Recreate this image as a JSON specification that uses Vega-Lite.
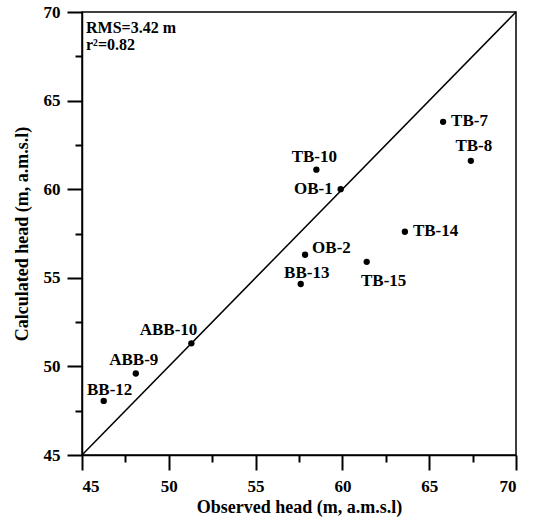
{
  "$schema": "https://vega.github.io/schema/vega-lite/v6.json",
  "width": 434,
  "height": 443,
  "autosize": {"type": "none"},
  "padding": {"left": 82, "top": 12, "right": 17, "bottom": 67},
  "background": "white",
  "config": {
    "font": "Liberation Serif",
    "view": {"stroke": "black", "strokeWidth": 1.5},
    "axis": {
      "domainColor": "black", "domainWidth": 1.5,
      "labelColor": "black", "labelFont": "Liberation Serif", "labelFontWeight": "bold", "labelFontSize": 17,
      "titleColor": "black", "titleFont": "Liberation Serif", "titleFontWeight": "bold", "titleFontSize": 18,
      "grid": false
    },
    "text": {"font": "Liberation Serif", "fontWeight": "bold", "fontSize": 17, "color": "black"}
  },
  "datasets": {
    "wells": [
      {"well": "TB-7", "observed": 65.8, "calculated": 63.8},
      {"well": "TB-8", "observed": 67.4, "calculated": 61.6},
      {"well": "TB-10", "observed": 58.5, "calculated": 61.1},
      {"well": "OB-1", "observed": 59.9, "calculated": 60.0},
      {"well": "TB-14", "observed": 63.6, "calculated": 57.6},
      {"well": "OB-2", "observed": 57.85, "calculated": 56.3},
      {"well": "TB-15", "observed": 61.4, "calculated": 55.9},
      {"well": "BB-13", "observed": 57.6, "calculated": 54.65},
      {"well": "ABB-10", "observed": 51.3, "calculated": 51.3},
      {"well": "ABB-9", "observed": 48.1, "calculated": 49.6},
      {"well": "BB-12", "observed": 46.25, "calculated": 48.05}
    ],
    "diag": [
      {"observed": 45, "calculated": 45},
      {"observed": 70, "calculated": 70}
    ],
    "stats": [
      {"observed": 45, "calculated": 70, "label": "RMS=3.42 m\nr²=0.82"}
    ]
  },
  "encoding": {
    "x": {"field": "observed", "type": "quantitative", "scale": {"domain": [45, 70], "nice": false, "zero": false},
          "axis": {"orient": "bottom", "values": [45, 47.5, 50, 52.5, 55, 57.5, 60, 62.5, 65, 67.5, 70],
                   "ticks": true, "tickColor": "black", "tickWidth": 2, "tickOpacity": 1,
                   "tickSize": {"condition": {"test": "datum.value % 5 === 0", "value": 15}, "value": 7},
                   "labelExpr": "datum.value % 5 === 0 ? datum.label : ''",
                   "labelPadding": {"condition": {"test": "datum.value % 5 === 0", "value": 8}, "value": 16},
                   "title": "Observed head (m, a.m.s.l)", "titlePadding": 4}},
    "y": {"field": "calculated", "type": "quantitative", "scale": {"domain": [45, 70], "nice": false, "zero": false},
          "axis": {"orient": "left", "values": [45, 47.5, 50, 52.5, 55, 57.5, 60, 62.5, 65, 67.5, 70],
                   "ticks": true, "tickColor": "black", "tickWidth": 2, "tickOpacity": 1,
                   "tickSize": {"condition": {"test": "datum.value % 5 === 0", "value": 15}, "value": 7},
                   "labelExpr": "datum.value % 5 === 0 ? datum.label : ''",
                   "labelPadding": {"condition": {"test": "datum.value % 5 === 0", "value": 7}, "value": 15},
                   "title": "Calculated head (m, a.m.s.l)", "titlePadding": 12}}
  },
  "layer": [
    {
      "data": {"name": "diag"},
      "mark": {"type": "line", "color": "black", "strokeWidth": 1.5}
    },
    {
      "data": {"name": "wells"},
      "mark": {"type": "circle", "size": 40, "color": "black", "opacity": 1}
    },
    {
      "data": {"name": "wells"},
      "transform": [{"filter": {"field": "well", "oneOf": ["TB-7", "TB-14"]}}],
      "mark": {"type": "text", "align": "left", "baseline": "middle", "dx": 8, "dy": -1},
      "encoding": {"text": {"field": "well"}}
    },
    {
      "data": {"name": "wells"},
      "transform": [{"filter": {"field": "well", "oneOf": ["OB-2"]}}],
      "mark": {"type": "text", "align": "left", "baseline": "middle", "dx": 7, "dy": -7},
      "encoding": {"text": {"field": "well"}}
    },
    {
      "data": {"name": "wells"},
      "transform": [{"filter": {"field": "well", "oneOf": ["OB-1"]}}],
      "mark": {"type": "text", "align": "right", "baseline": "middle", "dx": -8, "dy": 0},
      "encoding": {"text": {"field": "well"}}
    },
    {
      "data": {"name": "wells"},
      "transform": [{"filter": {"field": "well", "oneOf": ["TB-10", "ABB-9"]}}],
      "mark": {"type": "text", "align": "center", "baseline": "middle", "dx": -2, "dy": -13},
      "encoding": {"text": {"field": "well"}}
    },
    {
      "data": {"name": "wells"},
      "transform": [{"filter": {"field": "well", "oneOf": ["TB-8"]}}],
      "mark": {"type": "text", "align": "center", "baseline": "middle", "dx": 3, "dy": -15},
      "encoding": {"text": {"field": "well"}}
    },
    {
      "data": {"name": "wells"},
      "transform": [{"filter": {"field": "well", "oneOf": ["BB-13", "BB-12"]}}],
      "mark": {"type": "text", "align": "center", "baseline": "middle", "dx": 6, "dy": -11},
      "encoding": {"text": {"field": "well"}}
    },
    {
      "data": {"name": "wells"},
      "transform": [{"filter": {"field": "well", "oneOf": ["ABB-10"]}}],
      "mark": {"type": "text", "align": "right", "baseline": "middle", "dx": 6, "dy": -13},
      "encoding": {"text": {"field": "well"}}
    },
    {
      "data": {"name": "wells"},
      "transform": [{"filter": {"field": "well", "oneOf": ["TB-15"]}}],
      "mark": {"type": "text", "align": "center", "baseline": "middle", "dx": 17, "dy": 19},
      "encoding": {"text": {"field": "well"}}
    },
    {
      "data": {"name": "stats"},
      "mark": {"type": "text", "align": "left", "baseline": "middle", "dx": 4, "dy": 16, "lineBreak": "\n", "lineHeight": 17, "fontSize": 16},
      "encoding": {"text": {"field": "label"}}
    }
  ]
}
